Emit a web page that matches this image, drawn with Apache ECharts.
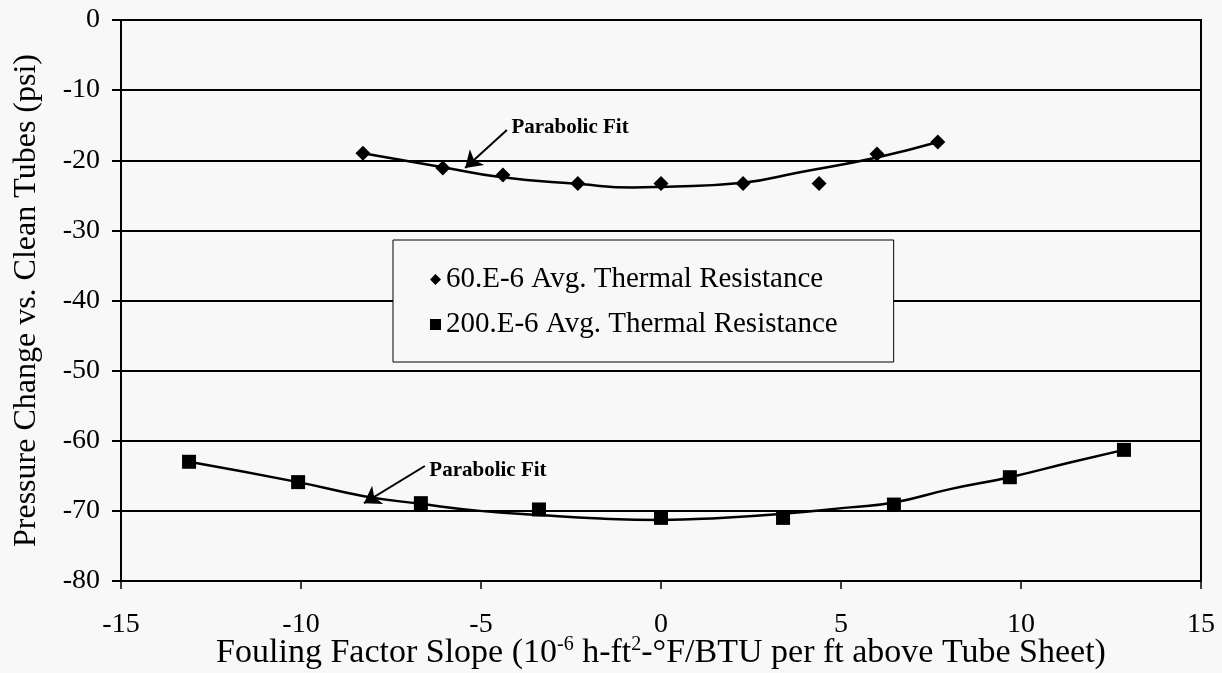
<!DOCTYPE html>
<html>
<head>
<meta charset="utf-8">
<script src="https://cdn.jsdelivr.net/npm/echarts@6/dist/echarts.min.js"></script>
<style>
  html, body { margin: 0; padding: 0; background: #f8f8f8; }
  #chart { width: 1222px; height: 673px; }
</style>
</head>
<body>
<div id="chart"></div>
<script>
// measured points, 60.E-6 avg thermal resistance
const r60X = [-8.28, -6.06, -4.39, -2.31, 0.0, 2.28, 4.39, 6.0, 7.69];
const r60Y = [-19.0, -21.1, -22.1, -23.3, -23.3, -23.3, -23.3, -19.1, -17.4];
// measured points, 200.E-6 avg thermal resistance
const r200X = [-13.11, -10.08, -6.67, -3.39, 0.0, 3.39, 6.47, 9.69, 12.86];
const r200Y = [-63.0, -65.9, -68.9, -69.8, -71.0, -71.0, -69.1, -65.2, -61.3];
// parabolic fit curves
const fit60X = [-8.28, -6.06, -4.47, -2.25, -0.78, -0.03, 2.28, 3.86, 6.0, 7.69];
const fit60Y = [-19.0, -21.0, -22.4, -23.4, -23.9, -23.8, -23.2, -21.7, -19.6, -17.4];
const fit200X = [-13.11, -10.08, -8.25, -6.67, -5.03, -3.39, -1.69, 0.0, 1.64, 3.39, 5.25, 6.47, 8.03, 9.69, 11.36, 12.86];
const fit200Y = [-63.0, -65.9, -67.9, -69.0, -70.0, -70.6, -71.1, -71.3, -71.0, -70.4, -69.5, -68.8, -66.9, -65.2, -63.1, -61.3];
// annotation arrows: [fromX, fromY, toX, toY]
const arrow60 = [-4.28, -15.7, -5.44, -21.1];
const arrow200 = [-6.56, -63.6, -8.25, -68.9];
const noteText = 'Parabolic Fit';

const names = ['60.E-6 Avg. Thermal Resistance', '200.E-6 Avg. Thermal Resistance'];
const zip = (xs, ys) => xs.map((x, i) => [x, ys[i]]);
const serif = 'Liberation Serif';

const chart = echarts.init(document.getElementById('chart'));
chart.setOption({
  animation: false,
  backgroundColor: '#f8f8f8',
  textStyle: { fontFamily: serif, color: '#000' },
  grid: {
    left: 121, right: 21, top: 20, bottom: 92, outerBoundsMode: 'none', containLabel: false,
    show: true, borderColor: '#000', borderWidth: 2, backgroundColor: 'transparent'
  },
  legend: {
    data: names,
    orient: 'vertical',
    left: 393, top: 240,
    padding: [25, 56, 23, 37],
    itemGap: 16,
    itemWidth: 11, itemHeight: 11,
    borderColor: '#000', borderWidth: 1,
    backgroundColor: '#f8f8f8',
    textStyle: { fontFamily: serif, fontSize: 29, color: '#000' }
  },
  xAxis: {
    type: 'value', min: -15, max: 15, interval: 5,
    name: 'Fouling Factor Slope (10{sup|-6} h-ft{sup|2}-°F/BTU per ft above Tube Sheet)',
    nameLocation: 'middle', nameGap: 54, nameMoveOverlap: false,
    nameTextStyle: {
      fontFamily: serif, fontSize: 34, color: '#000',
      rich: { sup: { fontFamily: serif, fontSize: 20, color: '#000', padding: [0, 0, 16, 0] } }
    },
    axisLine: { onZero: false, lineStyle: { color: '#000', width: 2 } },
    axisTick: { show: true, length: 8, lineStyle: { color: '#000', width: 1.5 } },
    axisLabel: { fontFamily: serif, fontSize: 28, color: '#000', margin: 30 },
    splitLine: { show: false }
  },
  yAxis: {
    type: 'value', min: -80, max: 0, interval: 10,
    name: 'Pressure Change vs. Clean Tubes (psi)',
    nameLocation: 'middle', nameGap: 78, nameRotate: 90,
    nameTextStyle: { fontFamily: serif, fontSize: 32, color: '#000' },
    axisLine: { onZero: false, lineStyle: { color: '#000', width: 2 } },
    axisTick: { show: true, length: 9, lineStyle: { color: '#000', width: 2 } },
    axisLabel: { fontFamily: serif, fontSize: 28, color: '#000', margin: 21 },
    splitLine: { show: true, lineStyle: { color: '#000', width: 2 } }
  },
  series: [
    {
      name: 'fit60', type: 'line', smooth: true, showSymbol: false, silent: true,
      data: zip(fit60X, fit60Y),
      lineStyle: { color: '#000', width: 2.5 }
    },
    {
      name: 'fit200', type: 'line', smooth: true, showSymbol: false, silent: true,
      data: zip(fit200X, fit200Y),
      lineStyle: { color: '#000', width: 2.5 }
    },
    {
      name: names[0], type: 'scatter', symbol: 'diamond', symbolSize: 15,
      data: zip(r60X, r60Y),
      itemStyle: { color: '#000', opacity: 1 },
      markLine: {
        silent: true, symbol: ['none', 'arrow'], symbolSize: 16,
        itemStyle: { color: '#000' },
        lineStyle: { color: '#000', width: 2, type: 'solid' },
        label: { show: false },
        data: [
          [{ coord: [arrow60[0], arrow60[1]] }, { coord: [arrow60[2], arrow60[3]] }],
          [{ coord: [arrow200[0], arrow200[1]] }, { coord: [arrow200[2], arrow200[3]] }]
        ]
      },
      markPoint: {
        silent: true, symbol: 'circle', symbolSize: 1,
        itemStyle: { color: 'transparent' },
        label: { show: true, position: 'right', distance: 4, formatter: noteText, fontFamily: serif, fontSize: 21, fontWeight: 'bold', color: '#000' },
        data: [
          { coord: [arrow60[0], arrow60[1] + 0.4] },
          { coord: [arrow200[0], arrow200[1] - 0.6] }
        ]
      }
    },
    {
      name: names[1], type: 'scatter', symbol: 'rect', symbolSize: 14,
      data: zip(r200X, r200Y),
      itemStyle: { color: '#000', opacity: 1 }
    }
  ]
});
window.addEventListener('resize', () => chart.resize());
</script>
</body>
</html>
